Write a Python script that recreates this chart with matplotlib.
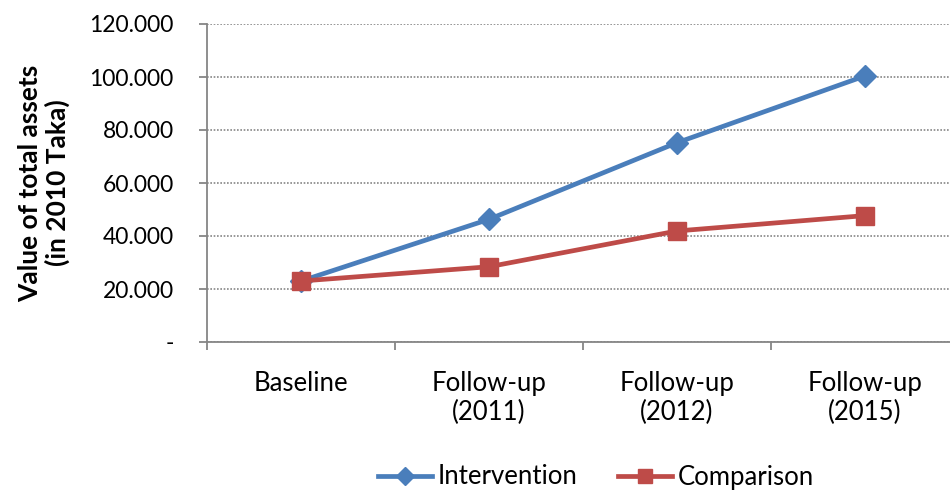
import matplotlib.pyplot as plt
import numpy as np
from matplotlib.ticker import FuncFormatter, FixedLocator

plt.rcParams['font.family'] = ['Lato', 'DejaVu Sans']

categories = ["Baseline", "Follow-up\n(2011)", "Follow-up\n(2012)", "Follow-up\n(2015)"]
intervention = [23000, 46300, 75200, 100400]
comparison = [23000, 28400, 41900, 47700]

blue = '#4A7EBB'
red = '#BE4B48'
grey = '#868686'

fig = plt.figure(figsize=(9.5, 4.93), dpi=100)
# plot area runs off the right edge, like the original
ax = fig.add_axes([207/950, 1-342/493, 752/950, 318/493])

x = np.arange(len(categories))
ax.plot(x, intervention, color=blue, lw=3.4, marker='D', ms=11, label='Intervention', zorder=3)
ax.plot(x, comparison, color=red, lw=3.4, marker='s', ms=13, label='Comparison', zorder=4)

ax.set_xlim(-0.5, 3.5)
ax.set_ylim(0, 120000)
ax.set_yticks(np.arange(0, 120001, 20000))
ax.yaxis.set_major_formatter(FuncFormatter(lambda v, p: '-' if v == 0 else f"{int(v/1000)}.000"))
ax.grid(axis='y', color=grey, linestyle=(0, (1, 1)), lw=1.2)
ax.set_axisbelow(True)

ax.set_xticks(x)
ax.set_xticklabels(categories, fontsize=18.5, linespacing=1.2)
ax.xaxis.set_minor_locator(FixedLocator([-0.5, 0.5, 1.5, 2.5, 3.5]))
ax.tick_params(axis='x', which='major', length=0, pad=21)
ax.tick_params(axis='x', which='minor', length=6, color=grey, width=1.3)
ax.tick_params(axis='y', length=6, color=grey, width=1.3, labelsize=16.5, pad=18)

for s in ['top', 'right']:
    ax.spines[s].set_visible(False)
for s in ['left', 'bottom']:
    ax.spines[s].set_color(grey)
    ax.spines[s].set_linewidth(1.3)

fig.text(44/950, 1-183/493, "Value of total assets\n(in 2010 Taka)", rotation=90,
         ha='center', va='center', fontsize=19, fontweight='bold', linespacing=1.15)

fig.legend(loc='center', bbox_to_anchor=(596/950, 1-477/493), ncol=2, frameon=False,
           fontsize=18.5, handlelength=2.1, columnspacing=1.6, handletextpad=0.2,
           markerscale=0.8)

fig.savefig('out.png', dpi=100)
